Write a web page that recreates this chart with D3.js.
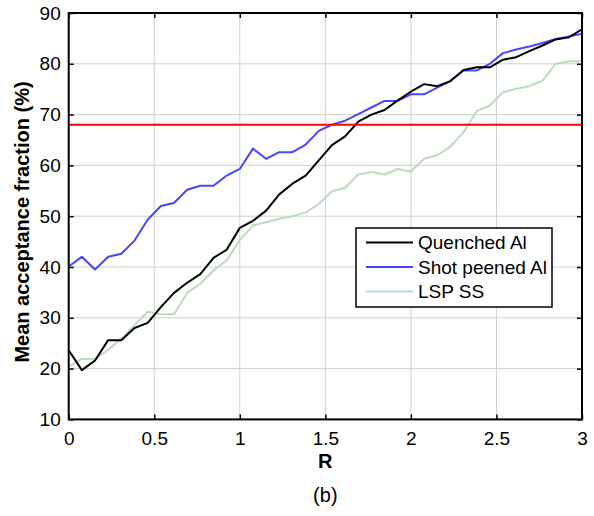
<!DOCTYPE html>
<html>
<head>
<meta charset="utf-8">
<script src="https://cdn.jsdelivr.net/npm/d3@7"></script>
<style>
  html, body { margin: 0; padding: 0; background: #fff; }
  svg { display: block; font-family: "Liberation Sans", Arial, Helvetica, sans-serif; }
</style>
</head>
<body>
<svg id="chart" width="594" height="516"></svg>
<script>
// Sample positions along R (40 evenly spaced points from 0 to 3)
const rValues = d3.range(40).map(i => i * 3 / 39);

const quenchedAl = [23.6, 19.7, 21.6, 25.6, 25.6, 28.0, 29.0, 32.1, 34.9, 36.9,
                    38.6, 41.8, 43.4, 47.7, 49.1, 51.1, 54.3, 56.4, 58.0, 61.0,
                    64.0, 65.7, 68.6, 70.0, 70.9, 72.8, 74.5, 76.0, 75.6, 76.6,
                    78.8, 79.3, 79.3, 80.8, 81.3, 82.5, 83.6, 84.8, 85.2, 86.8];

const shotPeenedAl = [40.1, 42.0, 39.5, 42.0, 42.6, 45.2, 49.3, 52.0, 52.6, 55.2,
                      56.0, 56.0, 58.0, 59.3, 63.3, 61.3, 62.6, 62.6, 64.1, 66.8,
                      68.0, 68.8, 70.1, 71.4, 72.7, 72.7, 74.0, 74.0, 75.3, 76.6,
                      78.7, 78.7, 80.0, 82.1, 82.8, 83.4, 84.1, 84.9, 85.4, 85.9];

const lspSS = [20.4, 21.9, 21.9, 23.7, 25.9, 28.6, 31.2, 30.7, 30.7, 34.9,
               36.7, 39.3, 41.3, 45.3, 48.2, 48.8, 49.5, 50.0, 50.7, 52.4,
               54.9, 55.6, 58.2, 58.7, 58.2, 59.3, 58.8, 61.3, 62.0, 63.7,
               66.5, 70.7, 71.8, 74.4, 75.1, 75.6, 76.7, 80.0, 80.5, 80.5];

const threshold = 68;

const xTicks = [0, 0.5, 1, 1.5, 2, 2.5, 3];
const yTicks = [10, 20, 30, 40, 50, 60, 70, 80, 90];

const seriesNames = ["Quenched Al", "Shot peened Al", "LSP SS"];
const seriesColors = ["#000000", "#4646ff", "#bcdcbc"];
const seriesData = [quenchedAl, shotPeenedAl, lspSS];

const svg = d3.select("#chart");
const plotL = 68.7, plotR = 582, plotT = 13, plotB = 419.4;

const x = d3.scaleLinear().domain([0, 3]).range([plotL, plotR]);
const y = d3.scaleLinear().domain([10, 90]).range([plotB, plotT]);

// grid lines
const grid = svg.append("g");
grid.selectAll("line.vx").data(xTicks.slice(1, -1)).enter().append("line")
  .attr("x1", d => x(d)).attr("x2", d => x(d))
  .attr("y1", plotT).attr("y2", plotB)
  .attr("stroke", "#d0d0d0").attr("stroke-width", 1);
grid.selectAll("line.hy").data(yTicks.slice(1, -1)).enter().append("line")
  .attr("x1", plotL).attr("x2", plotR)
  .attr("y1", d => y(d)).attr("y2", d => y(d))
  .attr("stroke", "#d0d0d0").attr("stroke-width", 1);

// data lines (light series drawn first)
const line = d3.line().x((d, i) => x(rValues[i])).y(d => y(d));
[2, 1, 0].forEach(k => {
  svg.append("path")
    .datum(seriesData[k])
    .attr("d", line)
    .attr("fill", "none")
    .attr("stroke", seriesColors[k])
    .attr("stroke-width", 2)
    .attr("stroke-linejoin", "round");
});

// threshold line
svg.append("line")
  .attr("x1", x(0)).attr("x2", x(3))
  .attr("y1", y(threshold)).attr("y2", y(threshold))
  .attr("stroke", "#ff0000").attr("stroke-width", 2);

// axes with inward ticks
const tickLen = 5;
const fontSize = 19;
const xAxisB = d3.axisBottom(x).tickValues(xTicks).tickSizeInner(-tickLen).tickSizeOuter(0).tickPadding(12)
  .tickFormat(d3.format("~g"));
const xAxisT = d3.axisTop(x).tickValues(xTicks).tickSizeInner(-tickLen).tickSizeOuter(0).tickFormat("");
const yAxisL = d3.axisLeft(y).tickValues(yTicks).tickSizeInner(-tickLen).tickSizeOuter(0).tickPadding(8);
const yAxisR = d3.axisRight(y).tickValues(yTicks).tickSizeInner(-tickLen).tickSizeOuter(0).tickFormat("");

function styleAxis(g) {
  g.select(".domain").remove();
  g.selectAll(".tick line").attr("stroke", "#000").attr("stroke-width", 1.5);
  g.selectAll("text").attr("font-size", fontSize).attr("fill", "#000")
    .attr("font-family", "'Liberation Sans', Arial, sans-serif");
}
svg.append("g").attr("transform", `translate(0,${plotB})`).call(xAxisB).call(styleAxis);
svg.append("g").attr("transform", `translate(0,${plotT})`).call(xAxisT).call(styleAxis);
svg.append("g").attr("transform", `translate(${plotL},0)`).call(yAxisL).call(styleAxis);
svg.append("g").attr("transform", `translate(${plotR},0)`).call(yAxisR).call(styleAxis);

// frame
svg.append("rect")
  .attr("x", plotL).attr("y", plotT)
  .attr("width", plotR - plotL).attr("height", plotB - plotT)
  .attr("fill", "none").attr("stroke", "#000").attr("stroke-width", 2);

// axis titles
svg.append("text")
  .attr("x", (plotL + plotR) / 2).attr("y", 468)
  .attr("text-anchor", "middle")
  .attr("font-size", 20).attr("font-weight", "bold")
  .text("R");
svg.append("text")
  .attr("transform", `translate(29,222) rotate(-90)`)
  .attr("text-anchor", "middle")
  .attr("font-size", 20).attr("font-weight", "bold")
  .text("Mean acceptance fraction (%)");
svg.append("text")
  .attr("x", (plotL + plotR) / 2).attr("y", 502)
  .attr("text-anchor", "middle")
  .attr("font-size", 20)
  .text("(b)");

// legend
const lg = svg.append("g");
lg.append("rect")
  .attr("x", 356).attr("y", 228).attr("width", 196).attr("height", 79)
  .attr("fill", "#fff").attr("stroke", "#000").attr("stroke-width", 1.5);
const rowY = [242.5, 267, 291.5];
seriesNames.forEach((name, k) => {
  lg.append("line")
    .attr("x1", 366).attr("x2", 413)
    .attr("y1", rowY[k]).attr("y2", rowY[k])
    .attr("stroke", seriesColors[k]).attr("stroke-width", 2);
  lg.append("text")
    .attr("x", 418).attr("y", rowY[k])
    .attr("dy", "0.35em")
    .attr("font-size", 19)
    .text(name);
});
</script>
</body>
</html>
